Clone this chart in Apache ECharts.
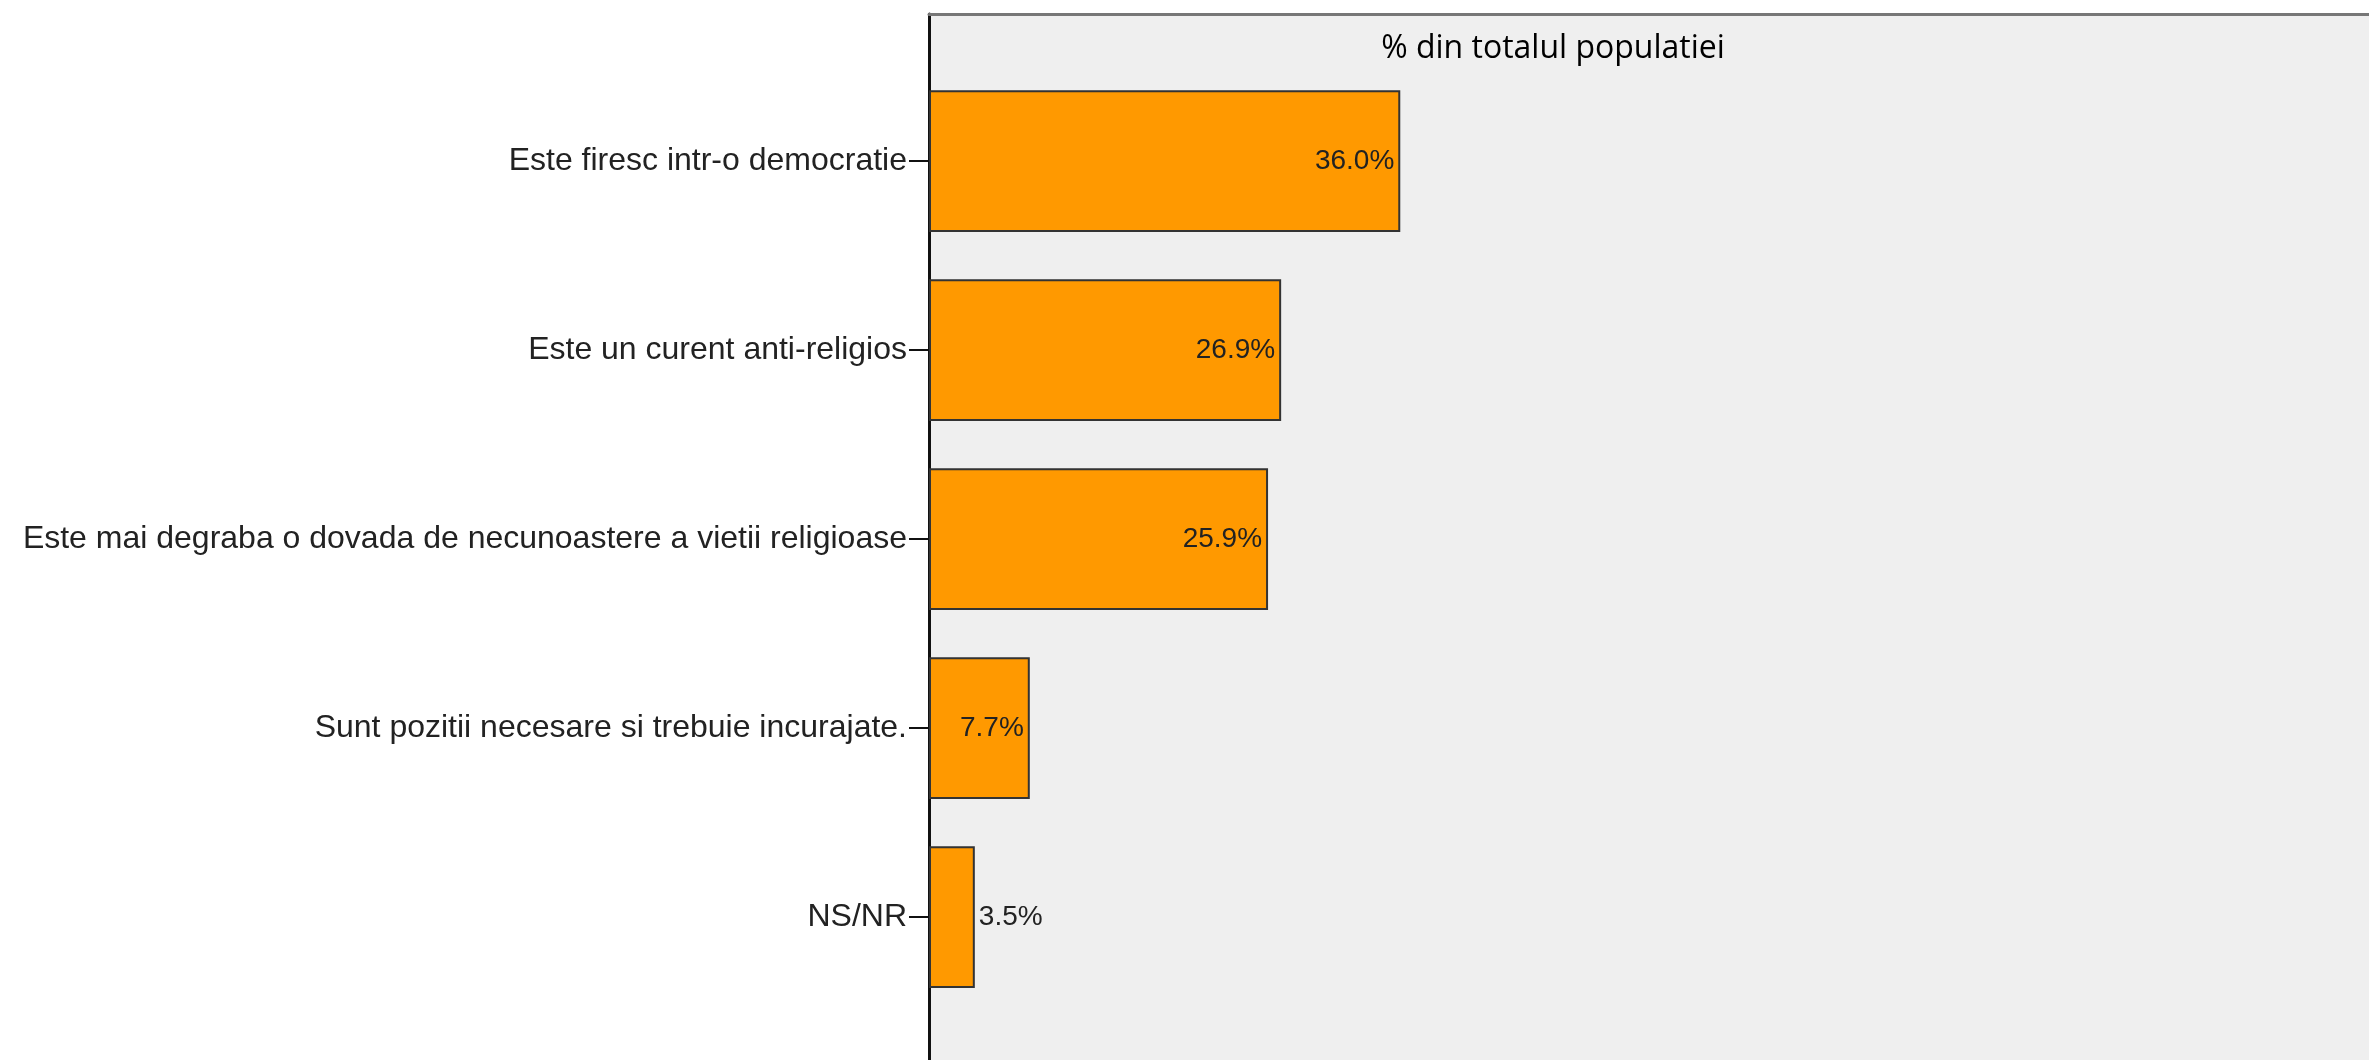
<!DOCTYPE html>
<html>
<head>
<meta charset="utf-8">
<script src="https://cdn.jsdelivr.net/npm/echarts@6/dist/echarts.min.js"></script>
<style>
html,body{margin:0;padding:0;background:#fff;}
#main{width:2369px;height:1060px;}
</style>
</head>
<body>
<div id="main"></div>
<script>
const categories = [
  'Este firesc intr-o democratie',
  'Este un curent anti-religios',
  'Este mai degraba o dovada de necunoastere a vietii religioase',
  'Sunt pozitii necesare si trebuie incurajate.',
  'NS/NR'
];
const values = [36.0, 26.9, 25.9, 7.7, 3.5];
const titleText = '% din totalul populatiei';

const chart = echarts.init(document.getElementById('main'));
const option = {
  backgroundColor: '#ffffff',
  animation: false,
  title: {
    text: titleText,
    left: 1548,
    top: 28,
    textAlign: 'center',
    textStyle: {fontFamily: 'Open Sans', fontWeight: 'normal', fontSize: 32, color: '#000'}
  },
  grid: [
    {left: 929, top: 14, right: 0, bottom: 0, show: true,
     backgroundColor: '#efefef', borderWidth: 0},
    {left: 929, top: 66.5, right: 0, bottom: 48.5}
  ],
  xAxis: [
    {gridIndex: 0, type: 'value', position: 'top',
     axisLine: {show: true, onZero: false, lineStyle: {color: '#777777', width: 3}},
     axisTick: {show: false}, axisLabel: {show: false}, splitLine: {show: false}},
    {gridIndex: 1, type: 'value', min: 0, max: 110, show: false}
  ],
  yAxis: [
    {gridIndex: 0, type: 'value', axisLine: {show: true, onZero: false, lineStyle: {color: '#111', width: 3}},
     axisTick: {show: false}, axisLabel: {show: false}, splitLine: {show: false}},
    {gridIndex: 1, type: 'category', data: categories, inverse: true,
     axisLine: {show: false},
     axisTick: {show: true, length: 20, alignWithLabel: true, lineStyle: {color: '#111', width: 2}},
     axisLabel: {margin: 22, fontFamily: 'Liberation Sans', fontSize: 32, color: '#222'},
     splitLine: {show: false}}
  ],
  series: [{
    type: 'bar',
    xAxisIndex: 1,
    yAxisIndex: 1,
    barCategoryGap: '25%',
    data: values.map(v => ({
      value: v,
      label: v < 5 ? {position: 'right', distance: 4} : {position: 'insideRight', distance: 6}
    })),
    itemStyle: {color: '#ff9900', borderColor: '#333', borderWidth: 2},
    label: {
      show: true,
      formatter: p => p.value.toFixed(1) + '%',
      fontFamily: 'Liberation Sans',
      fontSize: 28,
      color: '#222'
    }
  }]
};
chart.setOption(option);
</script>
</body>
</html>
